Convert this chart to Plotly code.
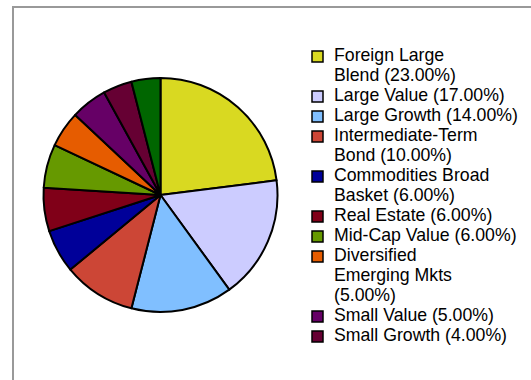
import plotly.graph_objects as go

# Portfolio allocation by category (percent of holdings)
categories = [
    "Foreign Large\nBlend",
    "Large Value",
    "Large Growth",
    "Intermediate-Term\nBond",
    "Commodities Broad\nBasket",
    "Real Estate",
    "Mid-Cap Value",
    "Diversified\nEmerging Mkts\n",
    "Small Value",
    "Small Growth",
    "Other",
]
weights = [23, 17, 14, 10, 6, 6, 6, 5, 5, 4, 4]
slice_colors = [
    "#d9d921", "#ccccff", "#80bfff", "#cc4636", "#000099", "#800018",
    "#669900", "#e65c00", "#660066", "#660033", "#006600",
]
legend_count = 10  # entries listed beside the pie

W, H = 531, 380
FONT = "Liberation Sans, Arial, sans-serif"

fig = go.Figure()

# pie geometry in pixels
cx, cy, r = 160.5, 195, 117
fig.add_trace(go.Pie(
    labels=[c.replace("\n", " ").strip() for c in categories],
    values=weights,
    sort=False,
    direction="clockwise",
    rotation=0,
    marker=dict(colors=slice_colors, line=dict(color="#000000", width=2)),
    textinfo="none",
    hoverinfo="label+percent",
    showlegend=False,
    domain=dict(x=[(cx - r) / W, (cx + r) / W],
                y=[(H - cy - r) / H, (H - cy + r) / H]),
))

shapes = []
annotations = []

# outer frame (only left and top edges fall inside the page)
shapes.append(dict(type="rect", xref="paper", yref="paper",
                   x0=13 / W, x1=1.2, y0=-0.2, y1=1 - 7 / H,
                   line=dict(color="#999999", width=2), fillcolor="rgba(0,0,0,0)"))

# legend: colored square plus wrapped text, 20px per line
line_h = 20
y_line = 55
sq_x, sq = 312, 11
text_x = 332
for i in range(legend_count):
    name = categories[i]
    sep = "" if name.endswith("\n") else " "
    text = f"{name}{sep}({weights[i]:.2f}%)"
    lines = text.split("\n")
    shapes.append(dict(type="rect", xref="paper", yref="paper",
                       x0=sq_x / W, x1=(sq_x + sq) / W,
                       y0=1 - (y_line + 1.5 + sq / 2) / H,
                       y1=1 - (y_line + 1.5 - sq / 2) / H,
                       fillcolor=slice_colors[i],
                       line=dict(color="#000000", width=1.5)))
    for ln in lines:
        annotations.append(dict(xref="paper", yref="paper",
                                x=text_x / W, y=1 - y_line / H,
                                xanchor="left", yanchor="middle",
                                text=ln, showarrow=False,
                                font=dict(family=FONT, size=17.7, color="#000000")))
        y_line += line_h

fig.update_layout(
    width=W, height=H,
    margin=dict(l=0, r=0, t=0, b=0),
    paper_bgcolor="#ffffff",
    plot_bgcolor="#ffffff",
    shapes=shapes,
    annotations=annotations,
    font=dict(family=FONT),
)

fig.write_html("out.html")
